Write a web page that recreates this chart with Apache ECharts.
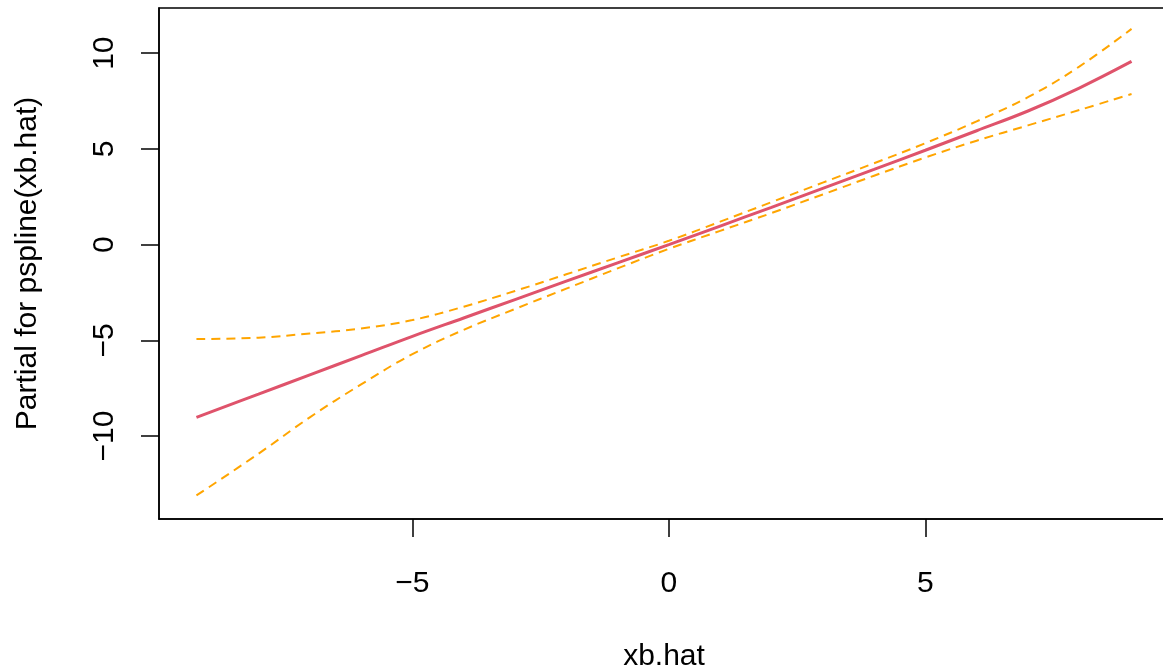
<!DOCTYPE html>
<html>
<head>
<meta charset="utf-8">
<script src="https://cdn.jsdelivr.net/npm/echarts@6/dist/echarts.min.js"></script>
<style>
  html, body { margin: 0; padding: 0; background: #ffffff; }
  #chart { width: 1163px; height: 670px; }
</style>
</head>
<body>
<div id="chart"></div>
<script>
// Data
const xbHat = [-9.21, -8, -7, -6, -5, -4, -3, -2, -1, 0, 1, 2, 3, 4, 5, 6, 7, 8, 9.02];
const fit   = [-9.02, -7.81, -6.80, -5.80, -4.79, -3.83, -2.87, -1.91, -0.95, 0.00, 0.97, 1.95, 2.94, 3.93, 4.93, 5.95, 6.98, 8.18, 9.57];
const upper = [-4.93, -4.86, -4.64, -4.38, -3.94, -3.24, -2.42, -1.55, -0.67, 0.20, 1.20, 2.22, 3.24, 4.25, 5.30, 6.44, 7.70, 9.30, 11.27];
const lower = [-13.10, -10.92, -9.02, -7.30, -5.72, -4.45, -3.36, -2.30, -1.24, -0.22, 0.72, 1.65, 2.62, 3.60, 4.55, 5.43, 6.23, 7.03, 7.87];
const xTicks = [-5, 0, 5];
const yTicks = [-10, -5, 0, 5, 10];

const FONT = '"Liberation Sans", Arial, Helvetica, sans-serif';
const pairs = (ys) => xbHat.map((x, i) => [x, ys[i]]);

const chart = echarts.init(document.getElementById('chart'), null, { renderer: 'canvas' });
chart.setOption({
  animation: false,
  backgroundColor: '#ffffff',
  grid: {
    left: 159, top: 8, width: 1010, height: 511,
    containLabel: false,
    outerBoundsMode: 'none',
    show: true, borderColor: '#000', borderWidth: 1.5, backgroundColor: 'transparent'
  },
  xAxis: {
    type: 'value',
    min: -9.94, max: 9.75,
    name: 'xb.hat',
    nameLocation: 'middle',
    nameGap: 123,
    nameTextStyle: { fontFamily: FONT, fontSize: 30, color: '#000' },
    axisLine: { show: true, onZero: false, lineStyle: { color: '#000', width: 1.5 } },
    axisTick: { show: true, length: 18, customValues: xTicks, lineStyle: { color: '#000', width: 1.5 } },
    axisLabel: {
      customValues: xTicks, margin: 50, fontFamily: FONT, fontSize: 30, color: '#000',
      formatter: (v) => (v < 0 ? '\u2212' + Math.abs(v) : String(v))
    },
    splitLine: { show: false }
  },
  yAxis: {
    type: 'value',
    min: -14.33, max: 12.36,
    name: 'Partial for pspline(xb.hat)',
    nameLocation: 'middle',
    nameGap: 116,
    nameRotate: 90,
    nameTextStyle: { fontFamily: FONT, fontSize: 30, color: '#000' },
    axisLine: { show: true, onZero: false, lineStyle: { color: '#000', width: 1.5 } },
    axisTick: { show: true, length: 18, customValues: yTicks, lineStyle: { color: '#000', width: 1.5 } },
    axisLabel: {
      customValues: yTicks, rotate: 90, margin: 39, fontFamily: FONT, fontSize: 30, color: '#000',
      formatter: (v) => (v < 0 ? '\u2212' + Math.abs(v) : String(v))
    },
    splitLine: { show: false }
  },
  series: [
    {
      name: 'upper', type: 'line', data: pairs(upper), smooth: 0.4, symbol: 'none',
      lineStyle: { color: '#FFA500', width: 2, type: [9, 6] }
    },
    {
      name: 'lower', type: 'line', data: pairs(lower), smooth: 0.4, symbol: 'none',
      lineStyle: { color: '#FFA500', width: 2, type: [9, 6] }
    },
    {
      name: 'fit', type: 'line', data: pairs(fit), smooth: 0.4, symbol: 'none',
      lineStyle: { color: '#DF536B', width: 3 }
    }
  ]
});
</script>
</body>
</html>
